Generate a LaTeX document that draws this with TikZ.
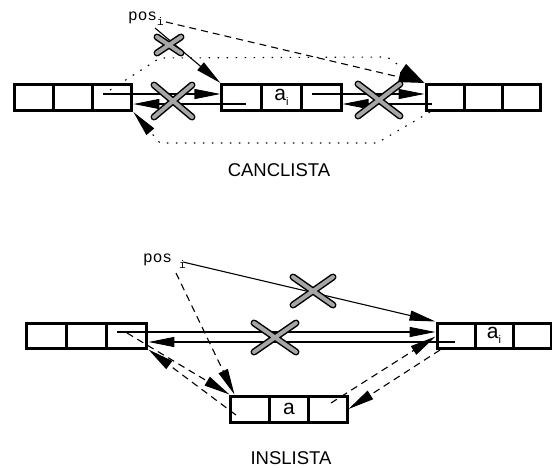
\documentclass[tikz,border=0pt]{standalone}
\usepackage{fontspec}
\setmainfont{Liberation Sans}
\newfontfamily\posfont{Liberation Mono}
\usetikzlibrary{arrows.meta}
\begin{document}
\begin{tikzpicture}[x=1pt,y=-1pt,
  cell/.style={draw, line width=3pt, minimum height=26pt, minimum width=#1, inner sep=0pt, font=\fontsize{21}{21}\selectfont},
  cell/.default=39.5pt,
  conn/.style={line width=1.1pt, -{Triangle[length=26pt,width=10pt]}},
  dashconn/.style={conn, dash pattern=on 7pt off 5pt},
  dotconn/.style={conn, dash pattern=on 1.6pt off 7.4pt},
  cross/.style={draw=black, double=gray!70, double distance=4pt, line width=1.5pt, line cap=round},
  lbl/.style={font=\fontsize{18.5}{18.5}\selectfont},
  poslbl/.style={font=\posfont\fontsize{16}{16}\selectfont, inner sep=0pt, anchor=base west}]
\useasboundingbox (0,0) rectangle (552,467);
\fill[white] (0,0) rectangle (552,467);
% ---------- top row ----------
\node[cell=39.3pt] (TL1) at (33.65,97.5) {};
\node[cell=39.3pt] (TL2) at (72.95,97.5) {};
\node[cell=39.3pt] (TL3) at (112.25,97.5) {};
\node[cell=39.67pt] (TM1) at (241.8,97.5) {};
\node[cell=39.67pt] (TM2) at (281.5,97.5) {a\raisebox{-5pt}{\fontsize{11}{11}\selectfont i}};
\node[cell=39.67pt] (TM3) at (321.2,97.5) {};
\node[cell=38.33pt] (TR1) at (445.2,97.5) {};
\node[cell=38.33pt] (TR2) at (483.5,97.5) {};
\node[cell=38.33pt] (TR3) at (521.8,97.5) {};
\node[poslbl] (posT) at (128,20) {pos\raisebox{-5pt}{\fontsize{11}{11}\selectfont i}};
\node[lbl] (canc) at (279,170) {CANCLISTA};
% connectors top
\coordinate (a1s) at (103,94);
\coordinate (a2s) at (246,104);
\coordinate (a3s) at (312,94);
\coordinate (a4s) at (432,104);
\draw[conn] (a1s) -- (TM1.west |- a1s);
\draw[conn] (a2s) -- (TL3.east |- a2s);
\draw[conn] (a3s) -- (TR1.west |- a3s);
\draw[conn] (a4s) -- (TM3.east |- a4s);
\coordinate (p1) at (155,28);
\coordinate (p2) at (166,22);
\draw[conn] (p1) -- (TM1.north west);
\draw[dashconn] (p2) -- (TR1.north west);
\coordinate (d1) at (110,90);
\coordinate (d2) at (160,58);
\coordinate (d3) at (387,57);
\draw[dotconn] (d1) -- (d2) -- (d3) -- (TR1.north west);
\coordinate (e1) at (430,112);
\coordinate (e2) at (377,143);
\coordinate (e3) at (160,143);
\draw[dotconn] (e1) -- (e2) -- (e3) -- (TL3.south east);
% crosses top
\draw[cross] (157,37) -- (181,53) (157,53) -- (181,37);
\draw[cross] (154,85) -- (192,117) (154,117) -- (192,85);
\draw[cross] (358,84) -- (400,116) (358,116) -- (400,84);
% ---------- bottom row ----------
\node[cell=40.33pt, minimum height=25pt] (BL1) at (46.2,335.5) {};
\node[cell=40.33pt, minimum height=25pt] (BL2) at (86.5,335.5) {};
\node[cell=40.33pt, minimum height=25pt] (BL3) at (126.8,335.5) {};
\node[cell=38pt, minimum height=25pt] (BR1) at (456,335.5) {};
\node[cell=38pt, minimum height=25pt] (BR2) at (494,335.5) {a\raisebox{-5pt}{\fontsize{11}{11}\selectfont i}};
\node[cell=38pt, minimum height=25pt] (BR3) at (532,335.5) {};
\node[cell=38.67pt] (BB1) at (250.3,409) {};
\node[cell=38.67pt] (BB2) at (289,409) {a};
\node[cell=38.67pt] (BB3) at (327.7,409) {};
\node[poslbl] (posB) at (143,262) {pos\hspace{7pt}\raisebox{-6pt}{\fontsize{11}{11}\selectfont i}};
\node[lbl] (ins) at (291,458) {INSLISTA};
% connectors bottom
\coordinate (q1) at (183,262);
\coordinate (q2) at (117,332);
\coordinate (q3) at (455,342);
\coordinate (q4) at (176,273);
\coordinate (q5) at (127,333);
\coordinate (q6) at (236,415);
\coordinate (q7) at (331,403);
\coordinate (q8) at (440,350);
\draw[conn] (q1) -- (BR1.north west);
\draw[conn] (q2) -- (BR1.west |- q2);
\draw[conn] (q3) -- (BL3.east |- q3);
\draw[dashconn] (q4) -- ([xshift=5pt]BB1.north west);
\draw[dashconn] (q5) -- (BB1.north west);
\draw[dashconn] (q6) -- (BL3.south east);
\draw[dashconn] (q7) -- ([yshift=-15pt]BR1.north west);
\draw[dashconn] (q8) -- (BB3.east);
% crosses bottom
\draw[cross] (293,277) -- (333,305) (293,305) -- (333,277);
\draw[cross] (254,323) -- (296,352) (254,352) -- (296,323);
\end{tikzpicture}
\end{document}
